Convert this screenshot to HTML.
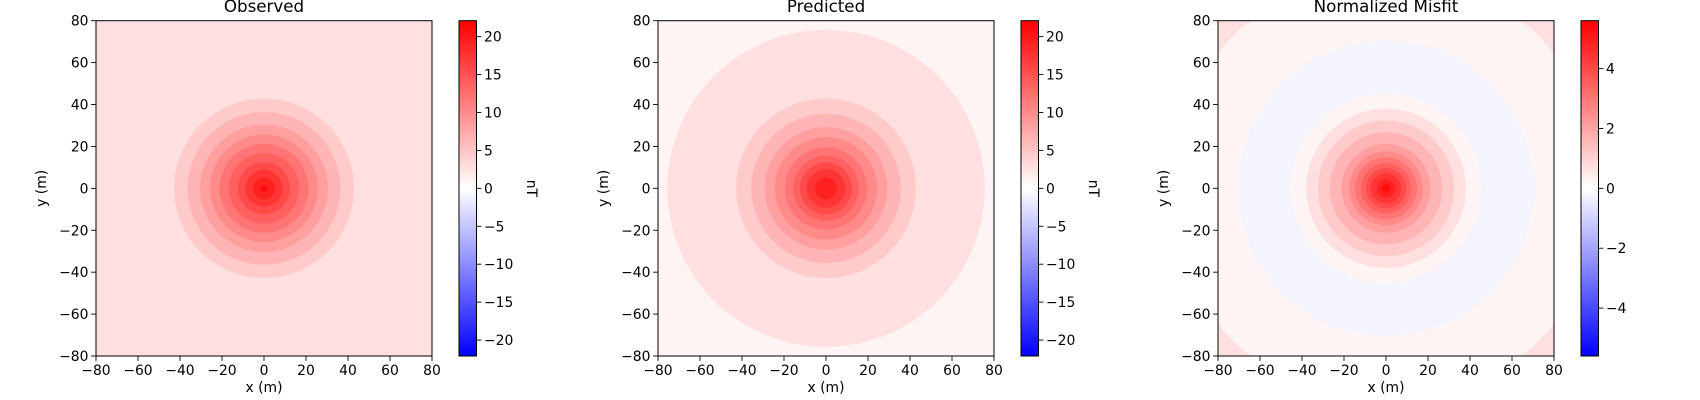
<!DOCTYPE html>
<html><head><meta charset="utf-8">
<style>
html,body{margin:0;padding:0;background:#fff;overflow:hidden;width:1700px;height:400px;}
svg{display:block;font-family:"DejaVu Sans","Liberation Sans",sans-serif;}
</style></head>
<body>
<svg id="fig" width="1700" height="400" viewBox="0 0 1700 400" xmlns="http://www.w3.org/2000/svg">
<defs>
<linearGradient id="bwr" x1="0" y1="1" x2="0" y2="0">
<stop offset="0" stop-color="#0000ff"/><stop offset="0.5" stop-color="#ffffff"/><stop offset="1" stop-color="#ff0000"/>
</linearGradient>
</defs>
</svg>
<script>
// Radial profiles (radius in m -> field value)
const obsRadii = [0, 1.8, 5.5, 9.1, 12.8, 17.2, 21.4, 26, 30.7, 36.5, 42.9, 55, 70, 90, 120];
const obsValues = [21.5, 20.17, 18.33, 16.5, 14.67, 12.83, 11, 9.17, 7.33, 5.5, 3.67, 2.9, 2.5, 2.3, 2.2];
const preRadii = [0, 5.6, 9.5, 12.7, 15.9, 19.9, 24.7, 29.4, 35.8, 43, 60, 76, 90, 120];
const preValues = [20.5, 18.33, 16.5, 14.67, 12.83, 11, 9.17, 7.33, 5.5, 3.67, 2.6, 1.83, 1.2, 1.0];
const misRadii = [0, 2.2, 4.7, 7.2, 9.7, 12.2, 15, 18, 21.4, 26.9, 32.6, 40, 48, 65, 82, 120];
const misValues = [5.5, 5.13, 4.67, 4.2, 3.73, 3.27, 2.8, 2.33, 1.87, 1.4, 0.93, 0.3, -0.15, -0.15, 0.3, 0.6];
const obsTicks = [-20, -15, -10, -5, 0, 5, 10, 15, 20];
const misTicks = [-4, -2, 0, 2, 4];
const axisTicks = [-80, -60, -40, -20, 0, 20, 40, 60, 80];

const NS = "http://www.w3.org/2000/svg";
const svg = document.getElementById('fig');
function mk(tag, attrs, parent) {
  const e = document.createElementNS(NS, tag);
  for (const k in attrs) e.setAttribute(k, attrs[k]);
  (parent || svg).appendChild(e);
  return e;
}
function bwr(v, vmax) {
  let t = Math.max(-1, Math.min(1, v / vmax));
  if (t >= 0) { const c = Math.round(255 * (1 - t)); return `rgb(255,${c},${c})`; }
  const c = Math.round(255 * (1 + t)); return `rgb(${c},${c},255)`;
}
function profileAt(radii, vals, r) {
  if (r >= radii[radii.length - 1]) return vals[vals.length - 1];
  for (let i = 1; i < radii.length; i++) {
    if (r <= radii[i]) {
      const f = (r - radii[i - 1]) / (radii[i] - radii[i - 1]);
      return vals[i - 1] + f * (vals[i] - vals[i - 1]);
    }
  }
  return vals[vals.length - 1];
}
const Y0 = 20.7, Y1 = 356, W = 336;
function panel(idx, x0, title, radii, vals, vmax, cTicks, unit) {
  const g = mk('g', {});
  
  
  const sx = v => x0 + (v + 80) / 160 * W;
  const sy = v => Y1 - (v + 80) / 160 * (Y1 - Y0);
  const step = 2 * vmax / 24;
  const bandColor = v => bwr((Math.floor(v / step) + 0.5) * step, vmax);
  // each band: disc of radius r intersected with the axes box (points clamped to box)
  function discPath(r) {
    const pts = [];
    for (let a = 0; a < 360; a += 2) {
      const t = a * Math.PI / 180;
      const mx = Math.max(-80, Math.min(80, r * Math.cos(t)));
      const my = Math.max(-80, Math.min(80, r * Math.sin(t)));
      pts.push(sx(mx).toFixed(2) + ',' + sy(my).toFixed(2));
    }
    return pts.join(' ');
  }
  let prev = null;
  for (let r = 114; r > 0; r -= 0.4) {
    const col = bandColor(profileAt(radii, vals, r));
    if (col === prev) continue;
    prev = col;
    const c = mk('polygon', { points: discPath(r), fill: col }, g);
    
    
  }
  const fr = mk('rect', { x: x0, y: Y0, width: W, height: Y1 - Y0, fill: 'none', stroke: '#000', 'stroke-width': 1 }, g);
  
  
  for (const t of axisTicks) {
    mk('line', { x1: sx(t), x2: sx(t), y1: Y1, y2: Y1 + 4.9, stroke: '#000', 'stroke-width': 0.9 }, g);
    const tx = mk('text', { x: sx(t), y: Y1 + 19, 'font-size': 13.9, 'text-anchor': 'middle' }, g);
    tx.textContent = t < 0 ? '\u2212' + (-t) : t;
    
    
    mk('line', { x1: x0 - 4.9, x2: x0, y1: sy(t), y2: sy(t), stroke: '#000', 'stroke-width': 0.9 }, g);
    const ty = mk('text', { x: x0 - 7.5, y: sy(t) + 5, 'font-size': 13.9, 'text-anchor': 'end' }, g);
    ty.textContent = t < 0 ? '\u2212' + (-t) : t;
    
    
  }
  const xl = mk('text', { x: x0 + W / 2, y: 392, 'font-size': 13.9, 'text-anchor': 'middle' }, g);
  xl.textContent = 'x (m)';
  
  
  const yx = x0 - 50, yy = (Y0 + Y1) / 2;
  const yl = mk('text', { x: yx, y: yy, 'font-size': 13.9, 'text-anchor': 'middle', transform: `rotate(-90 ${yx} ${yy})` }, g);
  yl.textContent = 'y (m)';
  
  
  const tt = mk('text', { x: x0 + W / 2, y: 12, 'font-size': 16.7, 'text-anchor': 'middle' }, g);
  tt.textContent = title;
  
  
  const cx0 = x0 + W + 27, cw = 17.5;
  const cb = mk('rect', { x: cx0, y: Y0, width: cw, height: Y1 - Y0, fill: 'url(#bwr)', stroke: '#000', 'stroke-width': 1 }, g);
  
  
  const cy = v => Y1 - (v + vmax) / (2 * vmax) * (Y1 - Y0);
  for (const t of cTicks) {
    mk('line', { x1: cx0 + cw, x2: cx0 + cw + 4.9, y1: cy(t), y2: cy(t), stroke: '#000', 'stroke-width': 0.9 }, g);
    const tl = mk('text', { x: cx0 + cw + 7.5, y: cy(t) + 5, 'font-size': 13.9 }, g);
    tl.textContent = t < 0 ? '\u2212' + (-t) : t;
    
    
  }
  if (unit) {
    const ux = cx0 + 68, uy = (Y0 + Y1) / 2;
    const ul = mk('text', { x: ux, y: uy, 'font-size': 13.9, 'text-anchor': 'middle', transform: `rotate(90 ${ux} ${uy})` }, g);
    ul.textContent = unit;
    
    
  }
}
panel(1, 96, 'Observed', obsRadii, obsValues, 22.1, obsTicks, 'nT');
panel(2, 658, 'Predicted', preRadii, preValues, 22.1, obsTicks, 'nT');
panel(3, 1218, 'Normalized Misfit', misRadii, misValues, 5.6, misTicks, '');
</script>
</body></html>
